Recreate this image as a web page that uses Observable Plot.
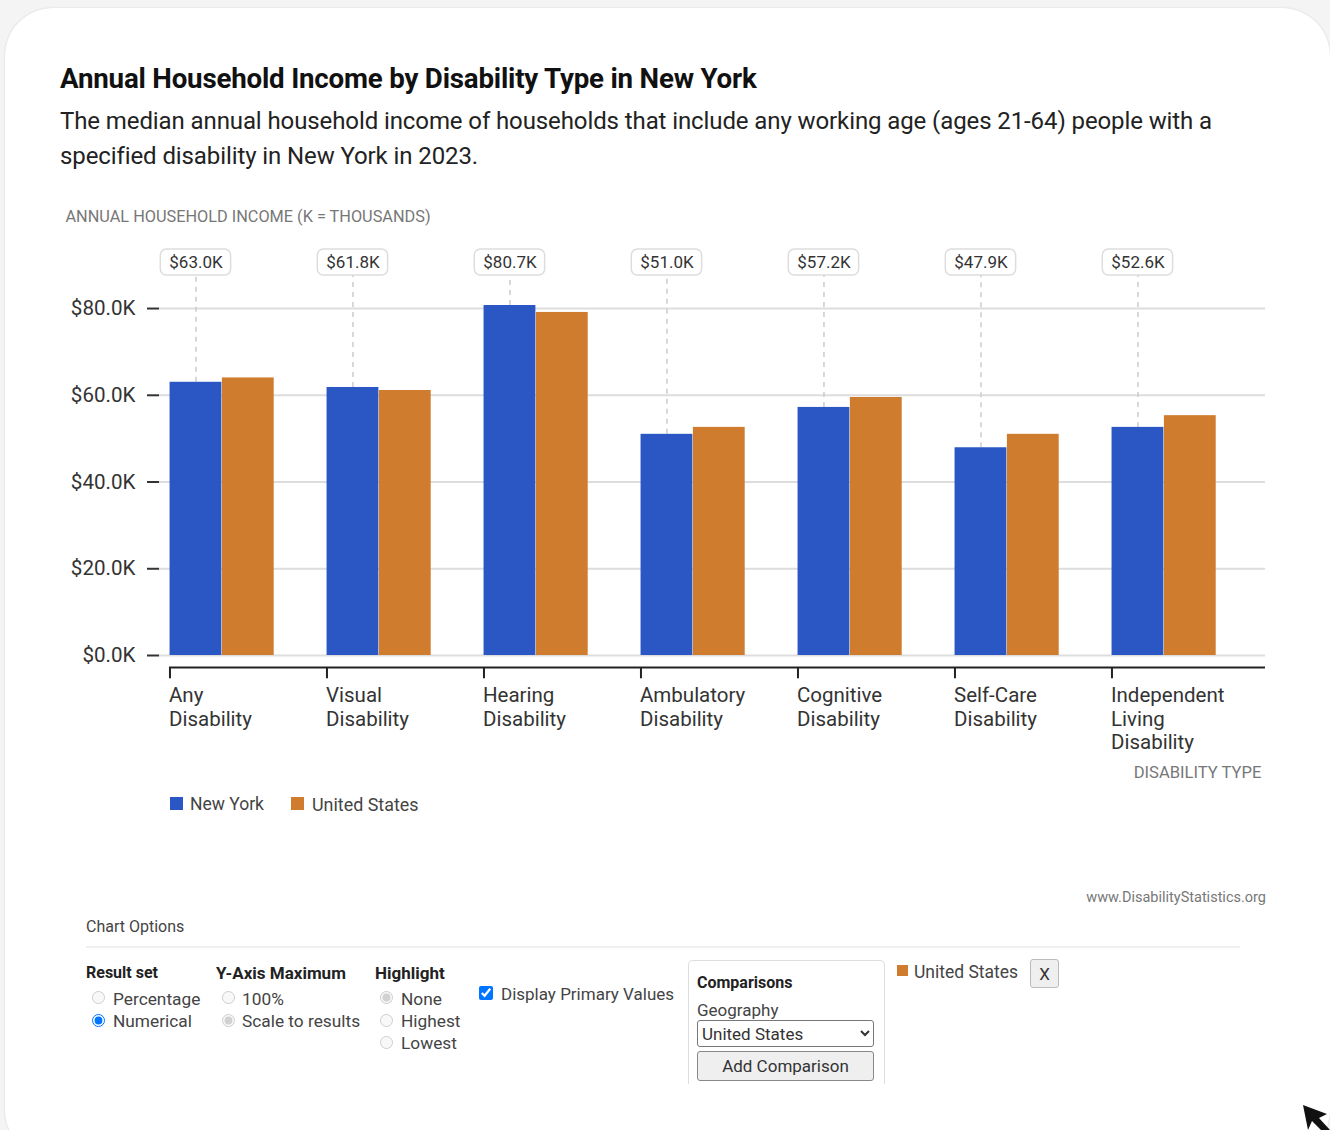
<!DOCTYPE html>
<html><head><meta charset="utf-8">
<script src="https://cdn.jsdelivr.net/npm/d3@7"></script>
<script src="https://cdn.jsdelivr.net/npm/@observablehq/plot@0.6"></script>
<style>
html,body{margin:0;padding:0;background:#f4f4f4;}
body{width:1330px;height:1130px;overflow:hidden;position:relative;font-family:Roboto,sans-serif;color:#222;}
#card{position:absolute;left:5px;top:8px;width:1325px;height:1150px;background:#fff;border-radius:48px;box-shadow:0 0 2px #ccc;}
.a{position:absolute;white-space:nowrap;}
#chart{position:absolute;left:0;top:200px;}
#chart svg{display:block;background:transparent;}
.opt{font-size:16px;color:#444;}
.hd{font-size:16px;font-weight:700;color:#222;}
input[type=radio],input[type=checkbox]{position:absolute;margin:0;}
</style></head><body>
<div id="card"></div>
<div class="a" id="title" style="left:60px;top:62px;font-size:27.7px;font-weight:700;color:#111;letter-spacing:-.2px">Annual Household Income by Disability Type in New York</div>
<div class="a" id="sub" style="left:60px;top:104px;font-size:24px;line-height:35px;color:#222;letter-spacing:-.1px">The median annual household income of households that include any working age (ages 21-64) people with a<br>specified disability in New York in 2023.</div>
<div id="chart"></div>
<div class="a" style="left:170px;top:797px;width:13px;height:13px;background:#2a57c4"></div>
<div class="a opt" style="left:190px;top:794px;font-size:17.5px">New York</div>
<div class="a" style="left:291px;top:797px;width:13px;height:13px;background:#d07c2e"></div>
<div class="a opt" style="left:312px;top:794px;font-size:17.9px">United States</div>
<div class="a" style="right:64px;top:889px;font-size:14.5px;color:#777">www.DisabilityStatistics.org</div>
<div class="a opt" style="left:86px;top:917px;">Chart Options</div>
<div class="a" style="left:86px;top:946px;width:1154px;height:2px;background:#f0f0f0"></div>
<div class="a hd" style="left:86px;top:963px">Result set</div>
<input type="radio" name="r" disabled style="left:92px;top:991px"><div class="a opt" style="left:113px;top:989px;font-size:17.3px">Percentage</div>
<input type="radio" name="r" checked style="left:92px;top:1014px"><div class="a opt" style="left:113px;top:1011px;font-size:17.3px">Numerical</div>
<div class="a hd" style="left:216px;top:963px;font-size:17px">Y-Axis Maximum</div>
<input type="radio" name="y" disabled style="left:222px;top:991px"><div class="a opt" style="left:242px;top:989px;font-size:17.3px">100%</div>
<input type="radio" name="y" disabled checked style="left:222px;top:1014px"><div class="a opt" style="left:242px;top:1011px;font-size:17.3px">Scale to results</div>
<div class="a hd" style="left:375px;top:963px;font-size:17px">Highlight</div>
<input type="radio" name="h" disabled checked style="left:380px;top:991px"><div class="a opt" style="left:401px;top:989px;font-size:17.3px">None</div>
<input type="radio" name="h" disabled style="left:380px;top:1014px"><div class="a opt" style="left:401px;top:1011px;font-size:17.3px">Highest</div>
<input type="radio" name="h" disabled style="left:380px;top:1036px"><div class="a opt" style="left:401px;top:1033px;font-size:17.3px">Lowest</div>
<input type="checkbox" checked style="left:479px;top:986px;width:14px;height:14px"><div class="a opt" style="left:501px;top:984px;font-size:17px">Display Primary Values</div>
<div class="a" style="left:688px;top:960px;width:195px;height:123px;border:1px solid #ddd;border-bottom:none;border-radius:5px 5px 0 0"></div>
<div class="a hd" style="left:697px;top:973px">Comparisons</div>
<div class="a opt" style="left:697px;top:1000px;font-size:17px">Geography</div>
<select class="a" style="left:697px;top:1020px;width:177px;height:27px;font:17px Roboto,sans-serif;color:#333;background:#fff;border:1px solid #777;border-radius:3px"><option>United States</option></select>
<button class="a" style="left:697px;top:1051px;width:177px;height:30px;font:17px Roboto,sans-serif;color:#333;background:#efefef;border:1px solid #888;border-radius:3px">Add Comparison</button>
<div class="a" style="left:897px;top:965px;width:11px;height:11px;background:#d07c2e"></div>
<div class="a opt" style="left:914px;top:962px;font-size:17.5px">United States</div>
<button class="a" style="left:1030px;top:959px;width:29px;height:29px;font:17px Roboto,sans-serif;color:#333;background:#efefef;border:1px solid #bbb;border-radius:3px;padding:0">X</button>
<svg class="a" style="left:1300px;top:1104px" width="30" height="26"><polygon points="3,1 27,10 19,14 30,26 21,26 12,17 8,26" fill="#111"/></svg>
<script>
const categories = ["Any Disability","Visual Disability","Hearing Disability","Ambulatory Disability","Cognitive Disability","Self-Care Disability","Independent Living Disability"];
const tickLabels = ["Any\nDisability","Visual\nDisability","Hearing\nDisability","Ambulatory\nDisability","Cognitive\nDisability","Self-Care\nDisability","Independent\nLiving\nDisability"];
const series = ["New York","United States"];
const newYork = [63.0,61.8,80.7,51.0,57.2,47.9,52.6];
const unitedStates = [64.0,61.1,79.1,52.6,59.5,51.0,55.3];
const yTicks = [0,20,40,60,80];
const colors = ["#2a57c4","#d07c2e"];

const key = (c,s)=>`${c}|${s}`;
const xDomain = categories.flatMap(c=>[key(c,series[0]),key(c,series[1]),key(c,"gap")]);
const ny = categories.map((c,i)=>({k:key(c,series[0]),s:series[0],v:newYork[i],t:tickLabels[i]}));
const us = categories.map((c,i)=>({k:key(c,series[1]),s:series[1],v:unitedStates[i],t:tickLabels[i]}));
const rows = ny.concat(us);
const fmt = d=>`$${d.toFixed(1)}K`;
const font = "Roboto,sans-serif";

const chart = Plot.plot({
  width:1330, height:600,
  marginLeft:159, marginRight:65, marginTop:0, marginBottom:0,
  style:{fontFamily:font, background:"transparent", overflow:"visible"},
  x:{type:"band", domain:xDomain, range:[169.3,1268.3], padding:0, round:false, axis:null},
  y:{domain:[0,92], range:[455,56]},
  color:{domain:series, range:colors},
  marks:[
    Plot.ruleY(yTicks,{stroke:"#ddd",strokeWidth:2}),
    Plot.axisY({ticks:yTicks,tickFormat:fmt,tickSize:12,tickPadding:12,fontSize:20.6,color:"#333",stroke:"#333",strokeWidth:2,label:null}),
    Plot.text(["ANNUAL HOUSEHOLD INCOME (K = THOUSANDS)"],{frameAnchor:"top-left",dx:-94,dy:10,textAnchor:"start",lineAnchor:"top",fontSize:16.3,fill:"#777"}),
    Plot.ruleX(ny,{x:"k",y1:"v",y2:87.6,stroke:"#ccc",strokeDasharray:"5 5",strokeWidth:1.5}),
    Plot.barY(rows,{x:"k",y:"v",fill:"s",insetLeft:.25,insetRight:.25}),
    Plot.barY(ny,{x:"k",y1:87.6,y2:93.6,fill:"#fff",stroke:"#ddd",strokeWidth:1.5,rx:6,insetLeft:-9,insetRight:-9}),
    Plot.text(ny,{x:"k",y:90.6,text:d=>fmt(d.v),fontSize:17,fill:"#333"}),
    Plot.ruleY([0],{dy:12,stroke:"#222",strokeWidth:2,insetLeft:10}),
    Plot.ruleX(ny,{x:"k",y1:0,y2:-2.6,dx:-26,dy:12,stroke:"#222",strokeWidth:2}),
    Plot.text(ny,{x:"k",text:"t",frameAnchor:"top",dx:-27,dy:485,lineAnchor:"top",textAnchor:"start",fontSize:20.5,lineHeight:1.15,fill:"#333"}),
    Plot.text(["DISABILITY TYPE"],{frameAnchor:"top-right",dx:-4,dy:566,textAnchor:"end",lineAnchor:"top",fontSize:16.6,fill:"#777"})
  ]
});
document.getElementById("chart").appendChild(chart);
</script>
</body></html>
